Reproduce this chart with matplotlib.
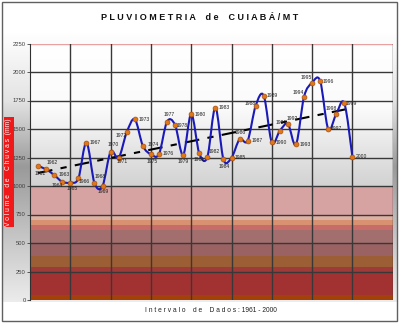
import numpy as np
import matplotlib
matplotlib.use("Agg")
import matplotlib.pyplot as plt
from matplotlib.path import Path
from matplotlib.patches import PathPatch, Rectangle
from matplotlib.colors import LinearSegmentedColormap

plt.rcParams["font.family"] = ["Liberation Sans", "DejaVu Sans"]

# dados de chuva anual (mm)
anos = list(range(1961, 2001))
chuva = [1175, 1146, 1096, 1037, 1029, 1067, 1380, 1026, 1001, 1300,
         1248, 1471, 1585, 1353, 1278, 1280, 1564, 1535, 1272, 1631,
         1287, 1254, 1687, 1234, 1248, 1409, 1397, 1704, 1792, 1383,
         1485, 1543, 1365, 1783, 1906, 1921, 1500, 1634, 1725, 1257]
yticks = [0, 250, 500, 750, 1000, 1250, 1500, 1750, 2000, 2250]

# posicao dos rotulos (pixels) relativa ao ponto
offs = [(2, -7), (6, 7), (10, 1), (-5, -4), (2, -6), (6, -3), (9, 0), (6, 7),
        (1, -6), (3, 7), (4, -4), (-6, -3), (9, 0), (10, 1), (1, -7), (9, 1),
        (2, 7), (7, 0), (0, -7), (9, 0), (0, -6), (7, 6), (9, 0), (1, -7),
        (9, 0), (1, 7), (10, 0), (-5, 2), (9, 0), (10, 0), (1, 8), (4, 6),
        (9, 0), (-6, 4), (-6, 5), (8, 0), (8, 0), (-5, 5), (7, 0), (9, 0)]

# faixas coloridas abaixo de 1000 mm
faixas = [(0, 40, "#a34208"), (40, 250, "#a23232"), (250, 290, "#9e3a38"),
          (290, 390, "#9c5e34"), (390, 500, "#9a6262"), (500, 615, "#a26e6e"),
          (615, 660, "#c86c6a"), (660, 705, "#d89272"), (705, 750, "#dcb0a2"),
          (750, 1000, "#d6a2a2")]

W, H = 400, 323
fig = plt.figure(figsize=(W / 100, H / 100), dpi=100)

# fundo com degrade cinza
bg = fig.add_axes([0, 0, 1, 1], zorder=-2)
bg.set_xlim(0, W); bg.set_ylim(H, 0); bg.axis("off")
cm_out = LinearSegmentedColormap.from_list(
    "o", [(0, "#ffffff"), (0.25, "#e4e4e4"), (0.5, "#9a9a9a"),
          (0.75, "#c4c4c4"), (1, "#ececec")])
grad = np.linspace(0, 1, 256)[:, None]
bg.imshow(grad, cmap=cm_out, extent=(3, 397, 302, 32), aspect="auto")
bg.add_patch(Rectangle((2, 2), 395, 319, fill=False, ec="#606060", lw=1))

ax = fig.add_axes([30 / W, 1 - 300 / H, 362.7 / W, 256.5 / H])
ax.set_xlim(1960, 2005)
ax.set_ylim(0, 2250)
ax.set_facecolor("none")

cm_in = LinearSegmentedColormap.from_list(
    "i", [(0, "#ffffff"), (0.45, "#fbfbfb"), (1, "#d2d2d2")])
ax.imshow(grad, cmap=cm_in, extent=(1960, 2005, 1000, 2250),
          aspect="auto", origin="upper", zorder=0)
for lo, hi, c in faixas:
    ax.axhspan(lo, hi, color=c, lw=0, zorder=0)

for v in yticks[1:]:
    ax.axhline(v, color="#e8a0a0" if v == 2250 else "#383838", lw=1, zorder=1)
for x in range(1965, 2005, 5):
    ax.axvline(x, color="#383838", lw=1, zorder=1)
ax.axvline(2005, color="#383838", lw=1, zorder=1)

# tendencia linear
a, b = np.polyfit(anos, chuva, 1)
xt = np.array([anos[0], anos[-1]])
ax.plot(xt, a * xt + b, color="black", lw=1.5, dashes=(7, 4, 3, 4), zorder=2)

# linha suavizada (Catmull-Rom -> Bezier, como no Excel)
P = np.column_stack([anos, chuva]).astype(float)
verts = [P[0]]
codes = [Path.MOVETO]
for i in range(len(P) - 1):
    p0 = P[max(i - 1, 0)]; p1 = P[i]; p2 = P[i + 1]; p3 = P[min(i + 2, len(P) - 1)]
    verts += [p1 + (p2 - p0) / 6, p2 - (p3 - p1) / 6, p2]
    codes += [Path.CURVE4] * 3
ax.add_patch(PathPatch(Path(verts, codes), fc="none", ec="#1a1ab8", lw=1.5, zorder=3))
ax.plot(anos, chuva, "o", ms=3.5, mfc="#e07818", mec="#a85010", mew=0.5, zorder=4)

for ano, v, (dx, dy) in zip(anos, chuva, offs):
    ax.annotate(str(ano), (ano, v), xytext=(dx, dy), textcoords="offset pixels",
                ha="center", va="center", fontsize=3.6, color="#202020", zorder=5)

ax.set_xticks([])
ax.set_yticks(yticks)
ax.set_yticklabels([str(v) for v in yticks], fontsize=4.2, color="#404040")
ax.tick_params(axis="y", length=2, width=0.6, pad=1, color="#404040")
for s in ["top", "right", "bottom"]:
    ax.spines[s].set_visible(False)
ax.spines["left"].set_color("#303030")

fig.text(0.5, 1 - 17 / H, "P L U V I O M E T R I A    d e    C U I A B Á / M T",
         ha="center", va="center", fontsize=6.5, fontweight="bold", color="#101010")
fig.text(211 / W, 1 - 310 / H, "I n t e r v a l o    d e    D a d o s : 1961 - 2000",
         ha="center", va="center", fontsize=4.8, color="#202020")
fig.text(9 / W, 1 - 172 / H, "V o l u m e    d e    C h u v a s  (mm)",
         rotation=90, ha="center", va="center", fontsize=4.8, color="white",
         bbox=dict(boxstyle="square,pad=0.25", fc="#f01818", ec="none"))

fig.savefig("out.png", dpi=100)
